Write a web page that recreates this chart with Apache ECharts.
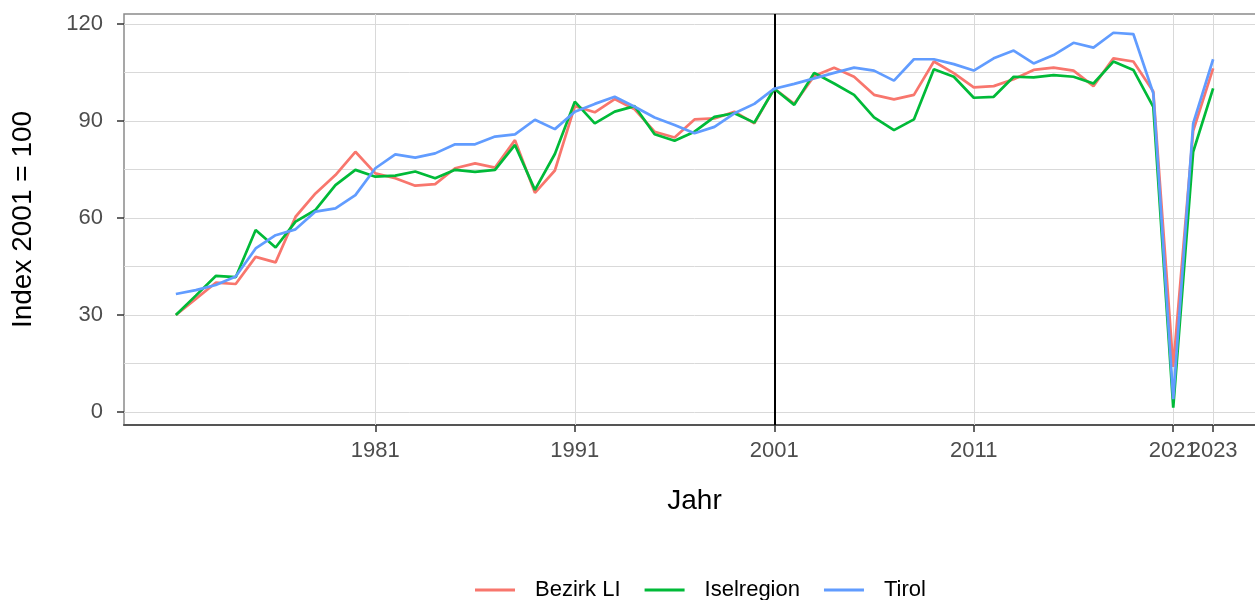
<!DOCTYPE html>
<html>
<head>
<meta charset="utf-8">
<script src="https://cdn.jsdelivr.net/npm/echarts@6/dist/echarts.min.js"></script>
<style>
  html, body { margin: 0; padding: 0; background: #fff; overflow: hidden; }
  #chart { width: 1275px; height: 600px; }
</style>
</head>
<body>
<div id="chart"></div>
<script>
// Jahre und Indexwerte (2001 = 100)
var years = [1971, 1972, 1973, 1974, 1975, 1976, 1977, 1978, 1979, 1980,
  1981, 1982, 1983, 1984, 1985, 1986, 1987, 1988, 1989, 1990,
  1991, 1992, 1993, 1994, 1995, 1996, 1997, 1998, 1999, 2000,
  2001, 2002, 2003, 2004, 2005, 2006, 2007, 2008, 2009, 2010,
  2011, 2012, 2013, 2014, 2015, 2016, 2017, 2018, 2019, 2020,
  2021, 2022, 2023];

var bezirkLI = [30.0, 35.0, 40.0, 39.6, 48.0, 46.3, 60.4, 67.6, 73.3, 80.5,
  73.8, 72.3, 70.0, 70.5, 75.4, 76.9, 75.6, 84.1, 67.8, 74.7,
  94.6, 92.7, 96.8, 93.6, 86.7, 84.9, 90.5, 90.8, 92.9, 89.3,
  100, 95.3, 103.9, 106.5, 103.7, 98.1, 96.7, 98.1, 108.4, 104.8,
  100.4, 100.8, 102.9, 105.8, 106.5, 105.6, 100.8, 109.4, 108.4, 99.1,
  14, 87, 106.3];

var iselregion = [30.0, 36.0, 42.1, 41.7, 56.3, 50.9, 58.9, 62.5, 70.2, 74.9,
  72.8, 73.1, 74.4, 72.3, 74.9, 74.3, 74.9, 82.6, 68.7, 79.8,
  96.0, 89.3, 92.9, 94.6, 85.9, 83.9, 86.7, 91.3, 92.4, 89.5,
  100, 95.0, 104.9, 101.6, 98.1, 91.1, 87.2, 90.5, 106.0, 103.7,
  97.2, 97.5, 103.7, 103.5, 104.2, 103.7, 101.6, 108.4, 105.8, 94.4,
  1.4, 80.5, 100.1];

var tirol = [36.5, 37.7, 39.3, 41.9, 50.6, 54.7, 56.5, 62.0, 63.0, 67.1,
  75.4, 79.7, 78.7, 80.0, 82.8, 82.8, 85.2, 85.9, 90.4, 87.5,
  92.9, 95.3, 97.5, 94.4, 91.1, 88.8, 86.2, 88.2, 92.4, 95.3,
  100, 101.5, 103.2, 104.9, 106.5, 105.6, 102.5, 109.1, 109.1, 107.6,
  105.6, 109.4, 111.8, 107.8, 110.4, 114.2, 112.7, 117.3, 116.9, 98.6,
  4, 89.3, 109.1];

// x-Achsenbeschriftung: 2021 liegt auf einer zweiten Achse, sonst blendet ECharts sie aus
var xTicks = [1981, 1991, 2001, 2011, 2023];
var xTicksExtra = [2021];
var yTicks = [0, 30, 60, 90, 120];
var yMinor = [15, 45, 75, 105];
var refYear = 2001;

var font = "'Liberation Sans', Arial, sans-serif";
var xMin = 1968.4, xMax = 2025.6;

function pairs(vals) {
  return years.map(function (y, i) { return [y, vals[i]]; });
}

function lineSeries(name, color, vals) {
  return {
    name: name,
    type: 'line',
    data: pairs(vals),
    symbol: 'none',
    lineStyle: { color: color, width: 2.7 },
    itemStyle: { color: color },
    emphasis: { disabled: true },
    z: 5
  };
}

function xLabels(ticks) {
  return {
    customValues: ticks, margin: 15, fontSize: 22, color: '#4d4d4d', fontFamily: font,
    hideOverlap: false, showMinLabel: true, showMaxLabel: true,
    formatter: function (v) { return String(v); }
  };
}

var gridLines = yTicks.concat(yMinor).map(function (v) { return { yAxis: v }; })
  .concat(xTicks.concat(xTicksExtra).map(function (v) { return { xAxis: v }; }));

var chart = echarts.init(document.getElementById('chart'));
chart.setOption({
  animation: false,
  textStyle: { fontFamily: font },
  grid: {
    left: 124, top: 14, width: 1141, height: 411,
    show: true, borderColor: '#8a8a8a', borderWidth: 1.5,
    containLabel: false
  },
  legend: {
    data: ['Bezirk LI', 'Iselregion', 'Tirol'],
    left: 475, top: 579, padding: 0,
    icon: 'rect', itemWidth: 40, itemHeight: 3, itemGap: 24,
    textStyle: { fontSize: 22, color: '#000', fontFamily: font, padding: [0, 0, 0, 15] }
  },
  xAxis: [{
    type: 'value', position: 'bottom',
    min: xMin, max: xMax,
    name: 'Jahr', nameLocation: 'middle', nameGap: 62,
    nameTextStyle: { fontSize: 28, color: '#000', fontFamily: font },
    axisLine: { show: true, onZero: false, lineStyle: { color: '#555', width: 2 } },
    axisTick: { show: true, customValues: xTicks, length: 7, lineStyle: { color: '#333', width: 1.5 } },
    axisLabel: xLabels(xTicks),
    splitLine: { show: false }
  }, {
    type: 'value', position: 'bottom', offset: 0,
    min: xMin, max: xMax,
    axisLine: { show: false, onZero: false },
    axisTick: { show: true, customValues: xTicksExtra, length: 7, lineStyle: { color: '#333', width: 1.5 } },
    axisLabel: xLabels(xTicksExtra),
    splitLine: { show: false }
  }],
  yAxis: {
    type: 'value',
    min: -4.0, max: 123.1,
    name: 'Index 2001 = 100', nameLocation: 'middle', nameGap: 87,
    nameTextStyle: { fontSize: 28, color: '#000', fontFamily: font },
    axisLine: { show: false },
    axisTick: { show: true, customValues: yTicks, length: 7, lineStyle: { color: '#333', width: 1.5 } },
    axisLabel: { customValues: yTicks, margin: 21, fontSize: 22, color: '#4d4d4d', fontFamily: font },
    splitLine: { show: false }
  },
  series: [
    {
      type: 'line', data: [], silent: true, z: 1,
      markLine: {
        silent: true, symbol: ['none', 'none'], label: { show: false },
        lineStyle: { color: '#d9d9d9', width: 1, type: 'solid' },
        emphasis: { disabled: true },
        data: gridLines
      }
    },
    {
      type: 'line', data: [], silent: true, z: 2,
      markLine: {
        silent: true, symbol: ['none', 'none'], label: { show: false },
        lineStyle: { color: '#000', width: 2, type: 'solid' },
        emphasis: { disabled: true },
        data: [{ xAxis: refYear }]
      }
    },
    lineSeries('Bezirk LI', '#F8766D', bezirkLI),
    lineSeries('Iselregion', '#00BA38', iselregion),
    lineSeries('Tirol', '#619CFF', tirol)
  ]
});
</script>
</body>
</html>
